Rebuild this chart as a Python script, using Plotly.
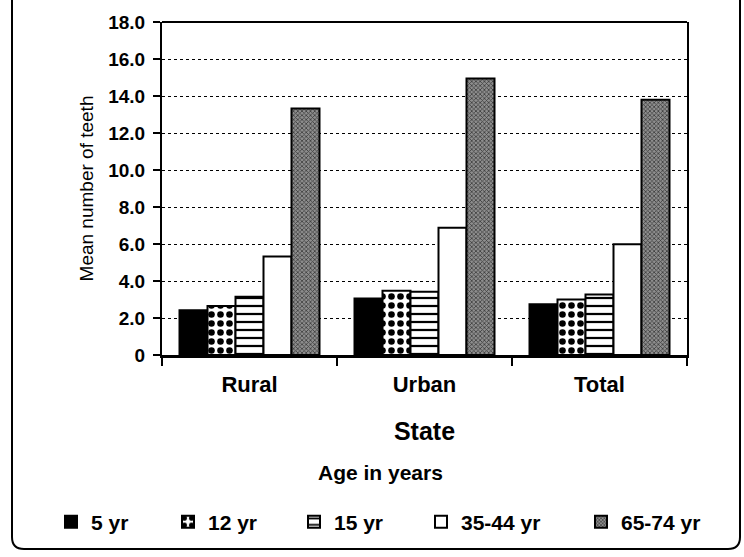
import plotly.graph_objects as go

categories = ["Rural", "Urban", "Total"]
series_names = ["5 yr", "12 yr", "15 yr", "35-44 yr", "65-74 yr"]
v_5 = [2.42, 3.06, 2.75]
v_12 = [2.65, 3.47, 3.0]
v_15 = [3.15, 3.42, 3.27]
v_35 = [5.33, 6.88, 5.98]
v_65 = [13.33, 14.94, 13.8]
y_ticks = [0, 2, 4, 6, 8, 10, 12, 14, 16, 18]
y_tick_labels = ["0", "2.0", "4.0", "6.0", "8.0", "10.0", "12.0", "14.0", "16.0", "18.0"]

FONT = "Liberation Sans, Arial, Helvetica, sans-serif"

styles = [
    dict(color="black", pattern=dict(shape="")),
    dict(color="white", pattern=dict(shape=".", fgcolor="black", bgcolor="white", size=9, solidity=0.42, fillmode="replace")),
    dict(color="white", pattern=dict(shape="-", fgcolor="black", bgcolor="white", size=8, solidity=0.28, fillmode="replace")),
    dict(color="white", pattern=dict(shape="")),
    dict(color="#6e6e6e", pattern=dict(shape="x", fgcolor="#3a3a3a", bgcolor="#8e8e8e", size=3, solidity=0.45, fillmode="replace")),
]

W, H = 744, 557
# legend text start positions (pixels) for each entry
legend_text_x = [95, 212, 338, 465, 625]
legend_ids = ["legend", "legend2", "legend3", "legend4", "legend5"]

fig = go.Figure()
for name, vals, st, lid in zip(series_names, [v_5, v_12, v_15, v_35, v_65], styles, legend_ids):
    fig.add_trace(go.Bar(
        x=categories, y=vals, name=name, legend=lid,
        marker=dict(color=st["color"], pattern=st["pattern"], line=dict(color="black", width=2)),
    ))

L, R, T, B = 162, 687, 22, 355
pw, ph = R - L, B - T
def px(x):
    return (x - L) / pw
def py(y):
    return (B - y) / ph

# outer rounded frame
x0, x1, y0, y1, r = 12, 740, -5, 549, 12
path = (f"M {px(x0)},{py(y0)} L {px(x0)},{py(y1 - r)} "
        f"Q {px(x0)},{py(y1)} {px(x0 + r)},{py(y1)} "
        f"L {px(x1 - r)},{py(y1)} Q {px(x1)},{py(y1)} {px(x1)},{py(y1 - r)} "
        f"L {px(x1)},{py(y0)}")

legends = {}
for lid, tx in zip(legend_ids, legend_text_x):
    legends[lid] = dict(
        orientation="h", xref="container", x=(tx - 44) / W, xanchor="left",
        yref="container", y=1 - 522 / H, yanchor="middle",
        bgcolor="rgba(0,0,0,0)",
        font=dict(size=21, family=FONT, weight="bold"),
        itemwidth=30,
    )

fig.update_layout(
    width=W, height=H,
    margin=dict(l=L, r=W - R, t=T, b=H - B),
    paper_bgcolor="white", plot_bgcolor="white",
    barmode="group", bargap=0.2, bargroupgap=0,
    font=dict(family=FONT, color="black"),
    showlegend=True,
    annotations=[
        dict(text="<b>Age in years</b>", xref="paper", yref="paper", x=px(380), y=py(472),
             showarrow=False, font=dict(size=21, family=FONT), xanchor="center", yanchor="middle"),
    ],
    shapes=[
        dict(type="path", path=path, xref="paper", yref="paper", line=dict(color="black", width=2)),
        dict(type="line", xref="paper", yref="paper", x0=0, x1=1, y0=1, y1=1, line=dict(color="black", width=2)),
    ],
    **legends,
)
fig.update_xaxes(
    showline=True, linecolor="black", linewidth=3,
    ticks="outside", tickson="boundaries", ticklen=8, tickwidth=2, tickcolor="black",
    tickfont=dict(size=22, family=FONT, weight="bold"), ticklabelstandoff=8,
    title=dict(text="<b>State</b>", font=dict(size=25, family=FONT), standoff=27),
    showgrid=False,
)
fig.update_yaxes(
    range=[0, 18], tickvals=y_ticks, ticktext=y_tick_labels,
    showline=True, linecolor="black", linewidth=2, mirror=True,
    ticks="outside", ticklen=7, tickwidth=2, tickcolor="black",
    tickfont=dict(size=19, family=FONT, weight="bold"), ticklabelstandoff=4,
    showgrid=True, gridcolor="black", gridwidth=1, griddash="dot",
    title=dict(text="Mean number of teeth", font=dict(size=19, family=FONT), standoff=10),
    zeroline=False,
)

fig.write_html("out.html", config={"displayModeBar": False},
               post_script="document.body.style.margin='0';")
